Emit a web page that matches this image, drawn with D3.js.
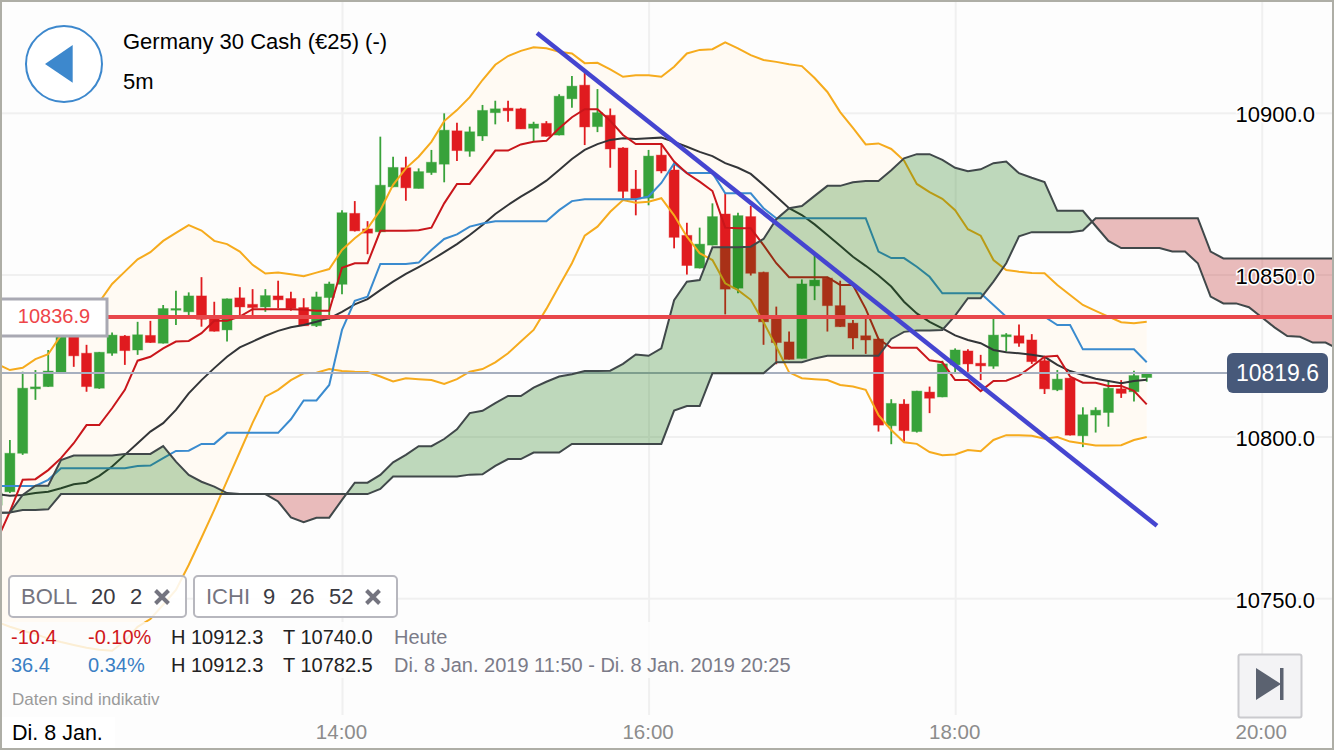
<!DOCTYPE html>
<html>
<head>
<meta charset="utf-8">
<script src="https://d3js.org/d3.v7.min.js"></script>
<style>
  html, body { margin: 0; padding: 0; background: #fdfdfd; }
  svg { display: block; font-family: "Liberation Sans", Arial, sans-serif; }
</style>
</head>
<body>
<svg id="chart" width="1334" height="750"></svg>
<script>
const opens = [10778.8,10782.9,10794.8,10814.7,10815.4,10819.5,10830.8,10825.7,10814.9,10825.7,10831.0,10826.7,10831.2,10828.8,10839.0,10838.5,10843.4,10837.0,10832.9,10842.8,10840.8,10840.0,10843.4,10842.6,10839.8,10834.2,10842.9,10847.0,10868.9,10864.1,10863.2,10877.1,10883.0,10876.6,10881.5,10884.1,10894.4,10888.1,10892.8,10900.0,10901.4,10901.2,10895.2,10896.7,10893.1,10904.3,10908.5,10895.7,10899.2,10889.1,10876.4,10873.6,10886.9,10882.3,10862.1,10852.0,10859.1,10868.7,10845.8,10867.9,10850.7,10836.9,10829.2,10824.1,10846.5,10848.9,10840.4,10835.0,10831.1,10830.1,10803.3,10810.0,10801.5,10813.7,10812.2,10822.1,10826.4,10822.6,10821.7,10830.8,10831.1,10829.8,10823.4,10814.4,10818.0,10800.2,10806.6,10807.4,10814.7,10813.8,10818.2];
const highs = [10782.8,10798.9,10820.0,10820.5,10826.7,10833.9,10833.9,10828.3,10826.1,10832.1,10831.3,10835.4,10835.7,10840.6,10845.0,10844.5,10849.2,10841.6,10842.6,10846.1,10845.5,10845.5,10848.1,10844.7,10842.7,10844.7,10847.8,10869.9,10872.7,10866.5,10892.6,10886.4,10886.4,10882.8,10888.5,10899.8,10896.9,10895.7,10902.4,10903.7,10903.7,10901.5,10897.2,10897.4,10905.7,10911.3,10912.3,10907.3,10901.3,10889.3,10882.3,10888.5,10890.3,10884.5,10866.0,10864.5,10872.0,10875.1,10869.1,10871.2,10850.9,10840.1,10832.4,10848.5,10856.9,10849.3,10848.1,10836.0,10837.0,10830.2,10811.5,10811.5,10814.1,10815.4,10823.4,10827.2,10826.9,10825.2,10836.3,10831.9,10834.6,10831.6,10824.6,10820.5,10818.1,10809.0,10809.0,10817.4,10817.4,10820.3,10819.8];
const lows = [10778.5,10782.5,10794.3,10811.3,10815.3,10819.3,10821.5,10813.8,10814.7,10824.9,10822.1,10825.2,10828.9,10828.7,10834.4,10836.5,10833.9,10832.4,10829.3,10836.5,10836.6,10838.5,10839.6,10838.8,10834.1,10833.8,10836.0,10843.9,10863.3,10856.3,10863.0,10877.0,10872.8,10876.6,10880.8,10878.5,10885.1,10886.4,10891.3,10896.4,10897.2,10895.0,10891.0,10892.6,10893.0,10901.5,10890.0,10894.0,10883.0,10873.6,10868.3,10871.4,10881.3,10858.1,10850.0,10851.9,10859.0,10837.7,10844.2,10849.7,10828.3,10822.3,10823.8,10824.1,10842.1,10832.4,10833.8,10826.9,10825.5,10801.5,10797.6,10798.4,10801.2,10807.2,10812.1,10819.3,10820.0,10817.4,10820.9,10826.2,10827.7,10822.4,10813.1,10814.0,10800.3,10796.7,10801.2,10803.0,10811.9,10810.8,10816.9];
const closes = [10782.5,10794.8,10814.9,10815.3,10820.2,10831.3,10824.9,10815.4,10826.0,10831.3,10826.5,10831.4,10829.0,10839.5,10839.5,10843.4,10836.2,10832.5,10842.5,10840.0,10839.8,10843.5,10842.2,10839.5,10834.2,10843.1,10847.1,10869.1,10863.5,10862.8,10877.6,10883.1,10876.8,10881.8,10884.7,10894.6,10888.3,10894.1,10900.7,10901.2,10900.6,10895.0,10896.5,10892.7,10905.1,10908.2,10895.6,10900.0,10888.8,10875.7,10873.4,10886.6,10882.0,10861.5,10852.8,10859.4,10867.9,10845.5,10868.2,10850.4,10835.4,10829.0,10823.8,10847.1,10848.3,10840.4,10833.9,10830.4,10829.8,10803.5,10810.2,10801.8,10814.0,10811.8,10822.4,10826.7,10822.4,10821.8,10831.3,10831.4,10828.8,10823.1,10814.7,10817.7,10800.4,10806.7,10808.1,10814.9,10813.3,10818.8,10819.6];

const bollUpper = [10822.4,10820.5,10821.2,10823.9,10825.4,10831.3,10835.4,10838.5,10841.5,10847.1,10850.9,10854.7,10856.9,10860.4,10862.9,10865.3,10863.6,10860.4,10859.4,10857.1,10853.0,10850.3,10850.6,10850.1,10849.5,10850.6,10851.7,10857.6,10861.2,10864.3,10869.9,10877.7,10882.8,10886.4,10891.0,10897.4,10900.8,10904.8,10910.1,10914.8,10917.5,10919.1,10920.2,10919.9,10918.8,10918.3,10915.3,10915.4,10913.4,10911.1,10911.6,10911.6,10911.1,10914.2,10918.3,10919.4,10919.6,10921.7,10919.9,10917.8,10916.3,10915.7,10915.0,10914.4,10910.7,10906.4,10900.2,10895.3,10890.2,10890.5,10888.8,10885.2,10878.0,10875.5,10873.4,10869.9,10864.0,10862.0,10854.5,10851.4,10850.9,10850.5,10850.4,10846.8,10843.7,10840.6,10838.8,10837.0,10835.3,10835.0,10835.4];
const bollMid = [10782.2,10781.7,10781.9,10782.5,10782.9,10784.0,10785.2,10785.7,10787.8,10790.7,10794.3,10797.9,10801.5,10804.1,10808.2,10813.3,10817.4,10821.1,10824.6,10827.5,10829.3,10831.1,10832.6,10833.7,10834.4,10835.4,10836.5,10838.5,10840.8,10842.4,10845.2,10847.8,10850.2,10852.3,10854.5,10856.9,10859.4,10862.2,10865.3,10868.7,10871.5,10874.1,10876.4,10879.0,10882.3,10885.7,10888.5,10890.3,10891.6,10892.1,10891.9,10892.1,10892.3,10891.0,10889.5,10887.9,10886.6,10884.4,10883.0,10881.1,10877.7,10874.1,10870.5,10868.4,10865.5,10862.2,10858.9,10855.5,10852.7,10849.7,10846.3,10841.6,10838.0,10835.4,10833.4,10831.2,10829.8,10828.8,10826.7,10826.0,10825.7,10825.2,10824.6,10822.1,10820.2,10819.0,10817.8,10817.1,10816.4,10817.1,10817.5];
const bollLower = [10742.7,10741.2,10740.0,10739.0,10737.5,10736.5,10735.6,10734.7,10734.1,10733.8,10736.8,10741.2,10743.6,10748.0,10752.6,10760.3,10768.7,10777.3,10786.3,10795.2,10804.2,10812.3,10814.4,10817.4,10819.5,10819.7,10820.8,10820.2,10820.0,10819.9,10818.5,10817.0,10818.0,10817.7,10817.4,10816.2,10817.7,10820.0,10820.8,10822.9,10825.7,10829.3,10832.9,10839.4,10846.5,10853.5,10862.0,10864.8,10869.4,10873.0,10872.2,10872.5,10873.6,10868.3,10861.7,10856.6,10854.5,10847.3,10845.2,10842.2,10835.3,10827.7,10819.8,10818.0,10817.7,10817.4,10815.9,10815.4,10814.4,10806.6,10802.0,10798.2,10797.7,10795.2,10794.2,10794.4,10795.8,10795.4,10798.9,10800.4,10800.4,10800.2,10799.3,10799.8,10798.4,10797.8,10797.2,10797.2,10797.3,10798.9,10799.8];

const tenkan = [10768.0,10776.8,10786.6,10786.8,10789.6,10793.3,10797.9,10803.5,10803.5,10808.7,10814.4,10823.4,10824.6,10827.2,10829.3,10829.5,10831.9,10835.7,10835.7,10837.0,10839.3,10839.3,10839.3,10839.3,10839.1,10838.8,10838.8,10852.1,10853.5,10853.5,10863.5,10863.5,10863.5,10863.7,10864.5,10872.0,10878.0,10878.0,10883.1,10888.3,10888.3,10890.2,10891.0,10891.3,10895.2,10898.6,10901.1,10901.1,10897.5,10893.1,10890.3,10890.3,10890.3,10884.9,10881.3,10878.7,10875.8,10864.5,10864.3,10864.3,10859.1,10853.5,10849.2,10849.2,10849.2,10849.2,10846.8,10846.8,10839.4,10830.1,10827.4,10827.4,10827.4,10823.5,10822.9,10817.4,10817.4,10814.0,10817.1,10817.2,10818.8,10821.6,10824.6,10824.9,10818.5,10816.6,10816.6,10815.6,10815.6,10814.1,10809.9];
const kijun = [10784.7,10784.7,10784.7,10784.7,10786.6,10790.2,10790.2,10790.2,10790.2,10790.2,10790.2,10790.9,10791.0,10793.3,10795.5,10795.6,10797.7,10797.7,10801.1,10801.1,10801.1,10801.1,10801.1,10805.3,10811.1,10811.1,10815.9,10832.9,10841.9,10843.2,10853.3,10853.3,10853.3,10853.7,10857.6,10861.0,10862.4,10864.8,10865.8,10866.5,10866.5,10866.5,10866.5,10866.5,10869.9,10872.7,10873.3,10873.3,10873.3,10873.3,10873.3,10874.1,10878.3,10884.3,10881.4,10881.4,10881.4,10875.1,10875.1,10875.1,10870.5,10867.4,10867.4,10867.4,10867.4,10867.4,10867.4,10867.4,10867.4,10857.1,10855.1,10855.1,10852.4,10849.3,10844.2,10844.2,10844.2,10844.2,10840.6,10837.0,10837.0,10837.0,10837.0,10834.4,10834.4,10826.9,10826.9,10826.9,10826.9,10826.9,10822.9];

// senkou spans run 15 bars past the last candle, up to the right edge
const senkouA = [10776.4,10776.5,10781.9,10784.8,10784.8,10792.7,10794.1,10794.1,10794.1,10794.1,10794.6,10794.6,10794.6,10797.0,10792.2,10788.1,10786.0,10784.5,10782.5,10782.2,10782.2,10782.2,10779.9,10775.0,10773.5,10774.9,10774.9,10780.4,10785.7,10785.7,10788.1,10792.0,10794.3,10797.0,10797.0,10799.2,10802.2,10807.2,10807.9,10810.3,10812.5,10812.5,10815.1,10816.9,10818.5,10819.2,10820.2,10820.2,10820.3,10822.4,10825.3,10824.9,10827.2,10842.1,10847.8,10848.3,10858.4,10858.4,10858.4,10858.6,10861.0,10867.1,10870.5,10871.2,10874.3,10877.4,10877.4,10878.5,10878.9,10878.9,10882.2,10885.9,10887.2,10887.2,10885.4,10883.0,10881.9,10882.5,10884.4,10884.9,10881.3,10879.9,10878.6,10869.7,10869.7,10869.7,10865.0,10860.4,10858.2,10858.2,10858.2,10858.2,10857.1,10857.1,10853.5,10843.2,10841.1,10841.1,10839.9,10836.8,10833.7,10831.0,10830.8,10829.0,10829.0,10827.0];
const senkouB = [10776.4,10776.5,10777.3,10777.3,10777.5,10782.2,10782.2,10782.2,10782.2,10782.2,10782.2,10782.2,10782.2,10782.2,10782.2,10782.2,10782.2,10782.2,10782.2,10782.2,10782.2,10782.2,10782.2,10782.2,10782.2,10782.2,10782.2,10782.2,10782.2,10782.2,10783.8,10787.6,10787.6,10787.6,10787.6,10787.6,10787.6,10788.2,10788.3,10790.9,10793.0,10793.0,10795.0,10795.0,10795.0,10797.7,10797.7,10797.7,10797.7,10797.7,10797.7,10797.7,10797.7,10808.0,10809.4,10809.4,10819.5,10819.5,10819.5,10819.5,10819.5,10822.9,10822.9,10822.9,10824.1,10824.9,10824.9,10824.9,10824.9,10824.9,10830.1,10832.3,10832.7,10832.7,10832.9,10837.3,10842.7,10842.7,10847.8,10853.5,10861.8,10863.1,10863.1,10863.1,10863.1,10863.6,10867.4,10867.4,10867.4,10867.4,10867.4,10867.4,10867.4,10867.4,10867.4,10857.1,10855.0,10855.0,10855.0,10855.0,10855.0,10855.0,10855.0,10855.0,10855.0,10855.0];

const priceTicks = [10750, 10800, 10850, 10900];
const timeTicks = [14, 16, 18, 20].map(h => new Date(2019, 0, 8, h, 0));
const lastPrice = 10819.6;
const alertPrice = 10836.9;
const trendTimes = [new Date(2019, 0, 8, 15, 16, 20), new Date(2019, 0, 8, 19, 19, 0)];
const trendPrices = [10924.6, 10772.4];

const firstBar = new Date(2019, 0, 8, 11, 45);
const barTime = j => d3.timeMinute.offset(firstBar, 5 * j);

const W = 1334, H = 750, plotBottom = 715;

const x = d3.scaleTime()
  .domain([new Date(2019, 0, 8, 14, 0), new Date(2019, 0, 8, 20, 0)])
  .range([342, 1261.7]);
const y = d3.scaleLinear().domain([10750, 10900]).range([598.3, 112.7]);

const svg = d3.select("#chart");
svg.append("rect").attr("width", W).attr("height", H).attr("fill", "#fdfdfd");

const defs = svg.append("defs");

// grid
svg.append("g")
  .call(d3.axisLeft(y).tickValues(priceTicks).tickSize(-W).tickFormat(""))
  .call(g => g.select(".domain").remove())
  .call(g => g.selectAll("line").attr("stroke", "#f0f0f0").attr("stroke-width", 2))
  .attr("transform", `translate(${W},0)`)
  .selectAll("line").attr("x2", -W);
svg.append("g")
  .attr("transform", `translate(0,${plotBottom})`)
  .call(d3.axisBottom(x).tickValues(timeTicks).tickSize(-plotBottom).tickFormat(""))
  .call(g => g.select(".domain").remove())
  .call(g => g.selectAll("line").attr("stroke", "#f0f0f0").attr("stroke-width", 2));

const line = d3.line().x((d, j) => x(barTime(j))).y(d => y(d));

// bollinger band
svg.append("path")
  .attr("d", d3.area()
    .x((d, j) => x(barTime(j)))
    .y0((d, j) => y(bollLower[j]))
    .y1(d => y(d))(bollUpper))
  .attr("fill", "#fffaf3");

// candles
const candles = svg.append("g").selectAll("g")
  .data(closes.map((c, j) => ({ t: barTime(j), o: opens[j], h: highs[j], l: lows[j], c })))
  .join("g")
  .attr("transform", d => `translate(${x(d.t)},0)`);
const candleColor = d => d.c >= d.o ? "#38a23a" : "#e01b1f";
candles.append("line")
  .attr("y1", d => y(d.h))
  .attr("y2", d => y(d.l))
  .attr("stroke", candleColor)
  .attr("stroke-width", 1.8);
candles.append("rect")
  .attr("x", -5)
  .attr("width", 10)
  .attr("y", d => y(Math.max(d.o, d.c)))
  .attr("height", d => Math.max(1.5, Math.abs(y(d.o) - y(d.c))))
  .attr("fill", candleColor)
  .attr("stroke", candleColor)
  .attr("stroke-opacity", 0.4);

// indicator lines
const indicators = [
  [bollUpper, "#f6ab1d"],
  [bollLower, "#f6ab1d"],
  [bollMid, "#333538"],
  [kijun, "#3a8bcf"],
  [tenkan, "#c9161b"],
];
svg.append("g").selectAll("path")
  .data(indicators)
  .join("path")
  .attr("d", d => line(d[0]))
  .attr("fill", "none")
  .attr("stroke", d => d[1])
  .attr("stroke-width", 2);

// last price line, under the cloud
svg.append("line")
  .attr("x1", 0).attr("x2", 1230)
  .attr("y1", y(lastPrice)).attr("y2", y(lastPrice))
  .attr("stroke", "#a6afbf").attr("stroke-width", 2);

// ichimoku cloud: same band, clipped either side of span B
const spanBAbove = d3.area().x((d, j) => x(barTime(j))).y0(0).y1(d => y(d))(senkouB);
const spanBBelow = d3.area().x((d, j) => x(barTime(j))).y0(H).y1(d => y(d))(senkouB);
defs.append("clipPath").attr("id", "above-b").append("path").attr("d", spanBAbove);
defs.append("clipPath").attr("id", "below-b").append("path").attr("d", spanBBelow);
const cloud = d3.area()
  .x((d, j) => x(barTime(j)))
  .y0((d, j) => y(senkouB[j]))
  .y1(d => y(d))(senkouA);
svg.append("path").attr("d", cloud).attr("clip-path", "url(#above-b)").attr("fill", "rgb(13,113,1)").attr("fill-opacity", 0.26);
svg.append("path").attr("d", cloud).attr("clip-path", "url(#below-b)").attr("fill", "rgb(178,0,0)").attr("fill-opacity", 0.26);
svg.append("g").selectAll("path")
  .data([senkouA, senkouB])
  .join("path")
  .attr("d", d => line(d))
  .attr("fill", "none")
  .attr("stroke", "#40484a")
  .attr("stroke-width", 2);

// alert line and drawn trend line
svg.append("line")
  .attr("x1", 107).attr("x2", W)
  .attr("y1", y(alertPrice)).attr("y2", y(alertPrice))
  .attr("stroke", "#e8474b").attr("stroke-width", 4);
svg.append("line")
  .attr("x1", x(trendTimes[0])).attr("y1", y(trendPrices[0]))
  .attr("x2", x(trendTimes[1])).attr("y2", y(trendPrices[1]))
  .attr("stroke", "#4545d0").attr("stroke-width", 4.5);

// text rows in the lower left wash out what runs underneath them
svg.append("rect")
  .attr("x", 2).attr("y", 622).attr("width", 800).attr("height", 56)
  .attr("fill", "#fdfdfd").attr("fill-opacity", 0.82);
svg.append("rect")
  .attr("x", 2).attr("y", 678).attr("width", 165).attr("height", 37)
  .attr("fill", "#fdfdfd").attr("fill-opacity", 0.82);

// axes labels
const yAxis = svg.append("g")
  .attr("transform", "translate(1315,0)")
  .call(d3.axisRight(y).tickValues(priceTicks).tickSize(0).tickFormat(d3.format(".1f")));
yAxis.select(".domain").remove();
yAxis.selectAll("text")
  .attr("x", 0)
  .attr("dy", "0.4em")
  .attr("text-anchor", "end")
  .attr("font-size", 22)
  .attr("font-family", "Liberation Sans")
  .attr("fill", "#000")
  .attr("stroke", "#fff")
  .attr("stroke-width", 3)
  .attr("paint-order", "stroke");

const xAxis = svg.append("g")
  .attr("transform", "translate(-1,739)")
  .call(d3.axisBottom(x).tickValues(timeTicks).tickSize(0).tickPadding(0).tickFormat(d3.timeFormat("%H:%M")));
xAxis.select(".domain").remove();
xAxis.selectAll("text")
  .attr("y", 0).attr("dy", 0)
  .attr("font-size", 20.5)
  .attr("font-family", "Liberation Sans")
  .attr("fill", "#8c8c8c");

const label = (txt, lx, ly, size, fill, anchor) => svg.append("text")
  .attr("x", lx).attr("y", ly)
  .attr("font-size", size)
  .attr("fill", fill)
  .attr("text-anchor", anchor || "start")
  .text(txt);

// price tag for the alert line
svg.append("rect").attr("x", 0).attr("y", 299).attr("width", 107).attr("height", 37)
  .attr("fill", "#fff").attr("stroke", "#a9a9b3").attr("stroke-width", 3);
label("10836.9", 54, 323, 20, "#ee4549", "middle");

// last price badge
svg.append("rect").attr("x", 1227).attr("y", 353).attr("width", 101).attr("height", 40).attr("rx", 6)
  .attr("fill", "#47597a");
label("10819.6", 1277.5, 381, 23, "#fff", "middle");

// header
svg.append("circle").attr("cx", 64).attr("cy", 64).attr("r", 38)
  .attr("fill", "#fff").attr("stroke", "#3d88cd").attr("stroke-width", 2);
svg.append("path").attr("d", "M45,64L72.7,45V82.7Z").attr("fill", "#3d88cd");
label("Germany 30 Cash (€25) (-)", 123, 49, 22, "#000")
  .attr("stroke", "#fdfdfd").attr("stroke-width", 3).attr("paint-order", "stroke");
label("5m", 123, 89, 22, "#000");

// indicator pills
const closeIcon = (cx, cy) => svg.append("path")
  .attr("d", `M${cx - 6.5},${cy - 6.5}L${cx + 6.5},${cy + 6.5}M${cx + 6.5},${cy - 6.5}L${cx - 6.5},${cy + 6.5}`)
  .attr("stroke", "#74747f").attr("stroke-width", 4).attr("fill", "none");
const pill = (px, pw) => svg.append("rect")
  .attr("x", px).attr("y", 576).attr("width", pw).attr("height", 41).attr("rx", 4)
  .attr("fill", "#fff").attr("fill-opacity", 0.88)
  .attr("stroke", "#b7b7be").attr("stroke-width", 2);
pill(9, 177);
pill(194, 203);
label("BOLL", 21, 604, 22, "#74747f");
label("20", 91, 604, 22, "#3a3a42");
label("2", 130, 604, 22, "#3a3a42");
closeIcon(162, 597);
label("ICHI", 206, 604, 22, "#74747f");
label("9", 263, 604, 22, "#3a3a42");
label("26", 290, 604, 22, "#3a3a42");
label("52", 329, 604, 22, "#3a3a42");
closeIcon(373, 597);

// stats rows
label("-10.4", 11, 644, 20, "#d0171c");
label("-0.10%", 88, 644, 20, "#d0171c");
label("H 10912.3", 171, 644, 20, "#222");
label("T 10740.0", 283, 644, 20, "#222");
label("Heute", 394, 644, 20, "#7b7b88");
label("36.4", 11, 672, 20, "#3a7fc4");
label("0.34%", 88, 672, 20, "#3a7fc4");
label("H 10912.3", 171, 672, 20, "#222");
label("T 10782.5", 283, 672, 20, "#222");
label("Di. 8 Jan. 2019 11:50 - Di. 8 Jan. 2019 20:25", 394, 672, 20, "#7b7b88");
label("Daten sind indikativ", 12, 705, 17, "#9a9a9a");

// date stamp
svg.append("rect").attr("x", 2).attr("y", 717).attr("width", 113).attr("height", 31).attr("fill", "#fff");
label("Di. 8 Jan.", 12, 740, 21.5, "#000");

// skip-to-end button
svg.append("rect").attr("x", 1238.5).attr("y", 654.5).attr("width", 63).attr("height", 63).attr("rx", 2)
  .attr("fill", "#f3f3f5").attr("stroke", "#cacace").attr("stroke-width", 2);
svg.append("path").attr("d", "M1256,668V700L1281,684Z").attr("fill", "#5b6270");
svg.append("rect").attr("x", 1280).attr("y", 668).attr("width", 3.5).attr("height", 32).attr("fill", "#5b6270");

// window frame
svg.append("rect").attr("x", 1).attr("y", 1).attr("width", W - 2).attr("height", H - 2)
  .attr("fill", "none").attr("stroke", "#aeaea6").attr("stroke-width", 2);
</script>
</body>
</html>
